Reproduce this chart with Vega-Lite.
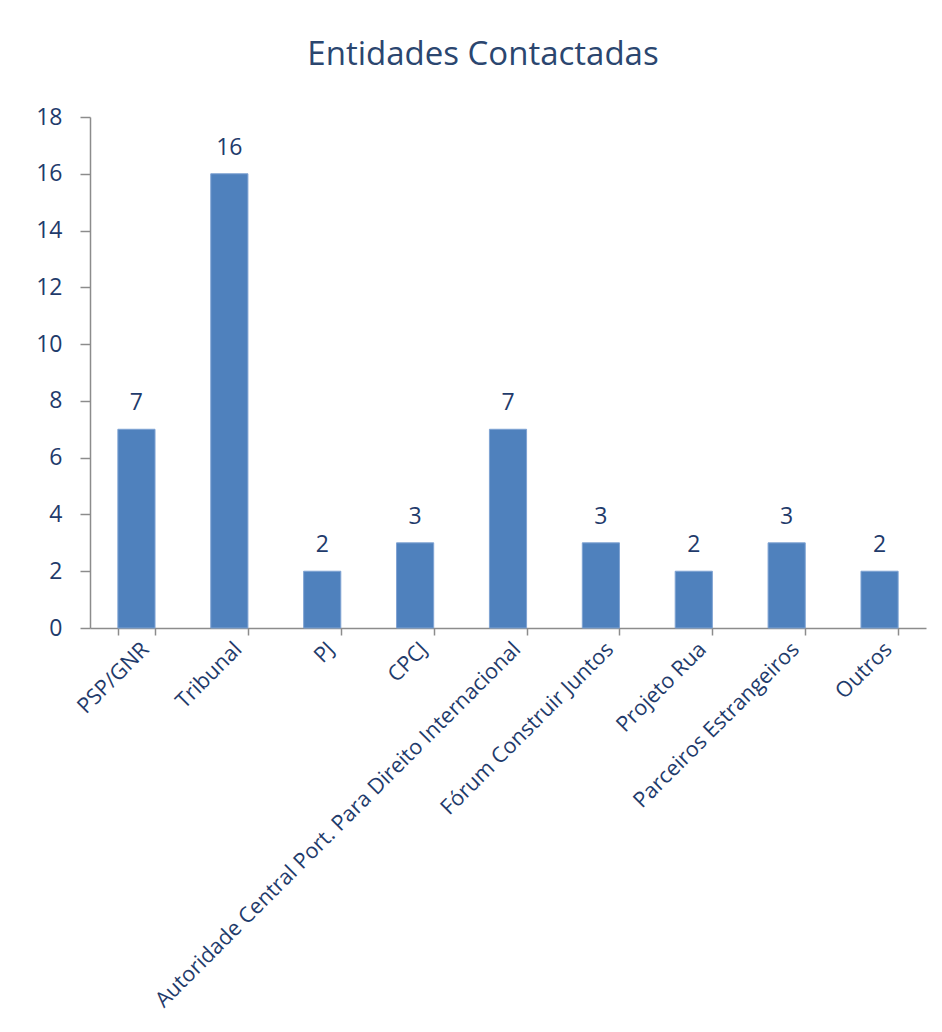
{
  "$schema": "https://vega.github.io/schema/vega-lite/v6.json",
  "width": 836,
  "height": 511,
  "autosize": {"type": "none"},
  "padding": {"left": 90, "top": 117, "right": 16, "bottom": 404},
  "background": "white",
  "title": {
    "text": "Entidades Contactadas",
    "font": "Open Sans, sans-serif",
    "fontSize": 33,
    "fontWeight": "normal",
    "color": "#2B466F",
    "anchor": "middle",
    "dx": -25,
    "offset": 34
  },
  "data": {
    "values": [
      {"entidade": "PSP/GNR", "n": 7},
      {"entidade": "Tribunal", "n": 16},
      {"entidade": "PJ", "n": 2},
      {"entidade": "CPCJ", "n": 3},
      {"entidade": "Autoridade Central Port. Para Direito Internacional", "n": 7},
      {"entidade": "Fórum Construir Juntos", "n": 3},
      {"entidade": "Projeto Rua", "n": 2},
      {"entidade": "Parceiros Estrangeiros", "n": 3},
      {"entidade": "Outros", "n": 2}
    ]
  },
  "encoding": {
    "x": {
      "field": "entidade",
      "type": "nominal",
      "sort": null,
      "scale": {"paddingInner": 0.6, "paddingOuter": 0.3},
      "axis": {
        "title": null,
        "labelAngle": -45,
        "labelAlign": "right",
        "labelBaseline": "middle",
        "labelFont": "Open Sans, sans-serif",
        "labelFontSize": 21.5,
        "labelColor": "#1F3B6B",
        "labelLimit": 0,
        "labelPadding": 11,
        "labelOffset": 9,
        "tickBand": "extent",
        "tickSize": 7,
        "tickColor": "#8C8C8C",
        "domainColor": "#8C8C8C",
        "domainWidth": 1.5,
        "tickWidth": 1.5
      }
    },
    "y": {
      "field": "n",
      "type": "quantitative",
      "scale": {"domain": [0, 18], "nice": false},
      "axis": {
        "title": null,
        "values": [0, 2, 4, 6, 8, 10, 12, 14, 16, 18],
        "grid": false,
        "tickSize": 10,
        "labelPadding": 18,
        "labelFont": "Open Sans, sans-serif",
        "labelFontSize": 23,
        "labelFontWeight": 500,
        "labelColor": "#1F3B6B",
        "tickColor": "#8C8C8C",
        "domainColor": "#8C8C8C",
        "domainWidth": 1.5,
        "tickWidth": 1.5
      }
    }
  },
  "layer": [
    {"mark": {"type": "bar", "color": "#4F81BD", "stroke": "#7FA3D3", "strokeWidth": 1}},
    {
      "mark": {
        "type": "text",
        "baseline": "bottom",
        "dy": -14,
        "font": "Open Sans, sans-serif",
        "fontSize": 23,
        "fontWeight": 500,
        "color": "#1F3B6B"
      },
      "encoding": {"text": {"field": "n", "type": "quantitative"}}
    }
  ],
  "config": {"view": {"stroke": null}}
}
